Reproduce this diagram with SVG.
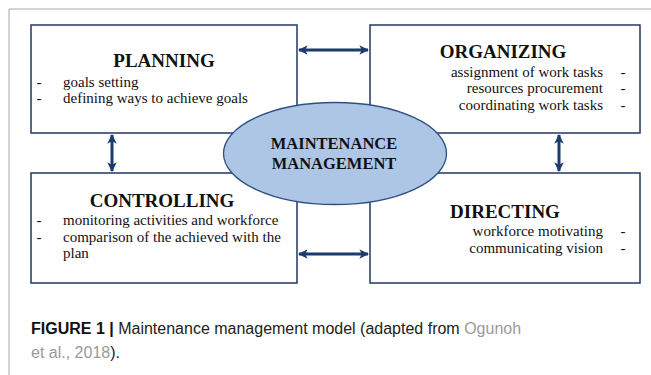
<svg xmlns="http://www.w3.org/2000/svg" width="651" height="375" viewBox="0 0 651 375">
<defs>
<marker id="ah" viewBox="0 0 10 10" refX="9" refY="5" markerWidth="3.2" markerHeight="3.2" orient="auto-start-reverse" markerUnits="strokeWidth">
<path d="M0,0 L10,5 L0,10 L2.5,5 Z" fill="#1d3b6c"/>
</marker>
<style>
.box{fill:#fff;stroke:#1f3864;stroke-width:1.5}
.title{font-family:"Liberation Serif","Times New Roman",serif;font-weight:bold;font-size:19px;fill:#111;text-anchor:middle}
.body{font-family:"Liberation Serif","Times New Roman",serif;font-size:15px;fill:#111}
.end{text-anchor:end}
.mid{text-anchor:middle}
.conn{stroke:#1d3b6c;stroke-width:3;fill:none;marker-start:url(#ah);marker-end:url(#ah)}
.cap{font-family:"Liberation Sans",Arial,sans-serif;font-size:16px;fill:#222}
.gray{fill:#9a9a9a}
</style>
</defs>
<rect x="0" y="0" width="651" height="375" fill="#fff"/>
<path d="M9,375 V9 H651" fill="none" stroke="#a8a8a8" stroke-width="1"/>

<g id="planning">
<rect class="box" x="31" y="25" width="266" height="108"/>
<text class="title" x="164" y="67">PLANNING</text>
<text class="body mid" x="39" y="87">-</text>
<text class="body" x="63" y="87">goals setting</text>
<text class="body mid" x="39" y="103">-</text>
<text class="body" x="63" y="103">defining ways to achieve goals</text>
</g>

<g id="organizing">
<rect class="box" x="370" y="25" width="270" height="108"/>
<text class="title" x="503" y="58">ORGANIZING</text>
<text class="body end" x="603" y="77">assignment of work tasks</text>
<text class="body mid" x="623" y="77">-</text>
<text class="body end" x="603" y="93">resources procurement</text>
<text class="body mid" x="623" y="93">-</text>
<text class="body end" x="603" y="110">coordinating work tasks</text>
<text class="body mid" x="623" y="110">-</text>
</g>

<g id="controlling">
<rect class="box" x="31" y="173" width="266" height="110"/>
<text class="title" x="162" y="207">CONTROLLING</text>
<text class="body mid" x="39" y="225">-</text>
<text class="body" x="63" y="225">monitoring activities and workforce</text>
<text class="body mid" x="39" y="242">-</text>
<text class="body" x="63" y="242">comparison of the achieved with the</text>
<text class="body" x="63" y="258">plan</text>
</g>

<g id="directing">
<rect class="box" x="370" y="173" width="270" height="110"/>
<text class="title" x="505" y="218">DIRECTING</text>
<text class="body end" x="603" y="236">workforce motivating</text>
<text class="body mid" x="623" y="236">-</text>
<text class="body end" x="603" y="253">communicating vision</text>
<text class="body mid" x="623" y="253">-</text>
</g>

<g id="connectors">
<line class="conn" x1="299" y1="50" x2="368" y2="50"/>
<line class="conn" x1="299" y1="254" x2="368" y2="254"/>
<line class="conn" x1="112" y1="135" x2="112" y2="171"/>
<line class="conn" x1="559" y1="135" x2="559" y2="171"/>
</g>

<g id="maintenance-management">
<ellipse cx="335" cy="153.5" rx="111.5" ry="51" fill="#adc6e5" stroke="#2f4f84" stroke-width="1.3"/>
<text class="title" style="font-size:16.5px" x="334" y="149">MAINTENANCE</text>
<text class="title" style="font-size:16.5px" x="334" y="169">MANAGEMENT</text>
</g>

<g id="caption">
<text class="cap" x="31" y="334"><tspan font-weight="bold" fill="#111">FIGURE 1 | </tspan>Maintenance management model (adapted from <tspan class="gray">Ogunoh</tspan></text>
<text class="cap" x="31" y="358"><tspan class="gray">et al., 2018</tspan>).</text>
</g>
</svg>
